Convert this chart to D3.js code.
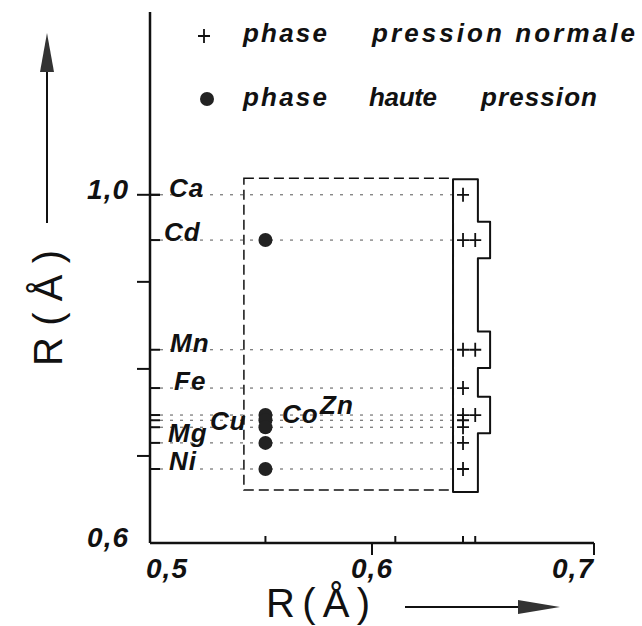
<!doctype html>
<html lang="fr">
<head>
<meta charset="utf-8">
<title>R(Å) phase pression normale / haute pression</title>
<style>
  body { margin: 0; background: #fff; }
  text { font-family: "Liberation Sans", Arial, sans-serif; fill: #111; }
</style>
</head>
<body>
<div id="chart"></div>
<script src="https://d3js.org/d3.v7.min.js"></script>
<script>
// cations et rayons (axe vertical)
var elements = ["Ca", "Cd", "Mn", "Fe", "Zn", "Co", "Cu", "Mg", "Ni"];
var radii = [1.00, 0.948, 0.822, 0.778, 0.747, 0.741, 0.733, 0.715, 0.685];

// phase haute pression (points)
var hpElements = ["Cd", "Zn", "Co", "Cu", "Mg", "Ni"];
var hpX = [0.552, 0.552, 0.552, 0.552, 0.552, 0.552];

// phase pression normale (croix)
var npElements = ["Ca", "Cd", "Cd", "Mn", "Mn", "Fe", "Zn", "Zn", "Co", "Cu", "Mg", "Ni"];
var npX = [0.641, 0.641, 0.6465, 0.641, 0.6465, 0.641, 0.641, 0.6465, 0.641, 0.641, 0.641, 0.641];

// axes
var xTickValues = [0.5, 0.6, 0.7];
var xTickLabels = ["0,5", "0,6", "0,7"];
var xMinorTicks = [0.552, 0.6105, 0.641, 0.6465];
var yMajorTicks = [1.0, 0.9, 0.8, 0.7];
var yTickLabels = [{v: 1.0, t: "1,0"}, {v: 0.6, t: "0,6"}];

// domaines encadrés
var dashedBox = {x0: 0.5423, x1: 0.6365, y0: 0.661, y1: 1.019};
var hullBox = {x0: 0.6365, x1: 0.6477, xb: 0.6532, y0: 0.6586, y1: 1.018, bump: 0.021};
var hullBumps = ["Cd", "Mn", "Zn"];

var width = 642, height = 626;
var svg = d3.select("#chart").append("svg")
    .attr("width", width)
    .attr("height", height);

svg.append("rect").attr("width", width).attr("height", height).attr("fill", "#fff");

var x = d3.scaleLinear().domain([0.5, 0.7]).range([150, 594]);
var y = d3.scaleLinear().domain([0.6, 1.21]).range([543, 12]);
function rOf(el) { return radii[elements.indexOf(el)]; }

// dotted guide lines
svg.append("g").selectAll("line")
  .data(elements)
  .join("line")
  .attr("x1", x(0.5)).attr("x2", x(hullBox.x0))
  .attr("y1", function(d) { return y(rOf(d)); })
  .attr("y2", function(d) { return y(rOf(d)); })
  .attr("stroke", "#555")
  .attr("stroke-width", 1)
  .attr("stroke-dasharray", "3,7");

// dashed domain
svg.append("rect")
  .attr("x", x(dashedBox.x0))
  .attr("y", y(dashedBox.y1))
  .attr("width", x(dashedBox.x1) - x(dashedBox.x0))
  .attr("height", y(dashedBox.y0) - y(dashedBox.y1))
  .attr("fill", "none")
  .attr("stroke", "#111")
  .attr("stroke-width", 1.5)
  .attr("stroke-dasharray", "10,5");

// solid outline around crosses
var hull = d3.path();
hull.moveTo(x(hullBox.x0), y(hullBox.y1));
hull.lineTo(x(hullBox.x1), y(hullBox.y1));
hullBumps.forEach(function(el) {
  var r = rOf(el);
  hull.lineTo(x(hullBox.x1), y(r + hullBox.bump));
  hull.lineTo(x(hullBox.xb), y(r + hullBox.bump));
  hull.lineTo(x(hullBox.xb), y(r - hullBox.bump));
  hull.lineTo(x(hullBox.x1), y(r - hullBox.bump));
});
hull.lineTo(x(hullBox.x1), y(hullBox.y0));
hull.lineTo(x(hullBox.x0), y(hullBox.y0));
hull.closePath();
svg.append("path")
  .attr("d", hull.toString())
  .attr("fill", "none")
  .attr("stroke", "#111")
  .attr("stroke-width", 2)
  .attr("stroke-linejoin", "round");

// axes lines
svg.append("line")
  .attr("x1", x(0.5)).attr("x2", x(0.5))
  .attr("y1", y(1.21)).attr("y2", y(0.6))
  .attr("stroke", "#111").attr("stroke-width", 2.5);
svg.append("line")
  .attr("x1", x(0.5)).attr("x2", x(0.7))
  .attr("y1", y(0.6)).attr("y2", y(0.6))
  .attr("stroke", "#111").attr("stroke-width", 2.5);

// y ticks: major on the left, element ticks on the right
svg.append("g").selectAll("line")
  .data(yMajorTicks)
  .join("line")
  .attr("x1", x(0.5) - 13)
  .attr("x2", function(d) { return d === 1.0 ? x(0.5) + 10 : x(0.5); })
  .attr("y1", y).attr("y2", y)
  .attr("stroke", "#111").attr("stroke-width", 2);
svg.append("g").selectAll("line")
  .data(radii)
  .join("line")
  .attr("x1", x(0.5)).attr("x2", x(0.5) + 10)
  .attr("y1", y).attr("y2", y)
  .attr("stroke", "#111").attr("stroke-width", 2);

// x ticks
svg.append("g").selectAll("line")
  .data(xTickValues.slice(1))
  .join("line")
  .attr("x1", x).attr("x2", x)
  .attr("y1", y(0.6)).attr("y2", y(0.6) + 12)
  .attr("stroke", "#111").attr("stroke-width", 2);
svg.append("g").selectAll("line")
  .data(xMinorTicks)
  .join("line")
  .attr("x1", x).attr("x2", x)
  .attr("y1", y(0.6)).attr("y2", y(0.6) - 7)
  .attr("stroke", "#111").attr("stroke-width", 2);

// tick labels
svg.append("g").selectAll("text")
  .data(xTickValues)
  .join("text")
  .attr("x", function(d) { return x(d) + (d === 0.5 ? 17 : d === 0.7 ? -21 : 0); })
  .attr("y", 578)
  .attr("text-anchor", "middle")
  .attr("font-size", 28)
  .attr("font-style", "italic")
  .attr("font-weight", "bold")
  .attr("letter-spacing", 1)
  .text(function(d, i) { return xTickLabels[i]; });

svg.append("g").selectAll("text")
  .data(yTickLabels)
  .join("text")
  .attr("x", 129)
  .attr("y", function(d) { return y(d.v) + 4; })
  .attr("text-anchor", "end")
  .attr("font-size", 28)
  .attr("font-style", "italic")
  .attr("font-weight", "bold")
  .attr("letter-spacing", 1)
  .text(function(d) { return d.t; });

// element labels
var labelLayout = {
  Ca: [169, 2], Cd: [164, 1], Mn: [170, 2], Fe: [174, 2], Zn: [320, -1],
  Co: [282, 3], Cu: [210, 3], Mg: [168, -1], Ni: [169, 1]
};
svg.append("g").selectAll("text")
  .data(elements)
  .join("text")
  .attr("x", function(d) { return labelLayout[d][0]; })
  .attr("y", function(d) { return y(rOf(d)) + labelLayout[d][1]; })
  .attr("font-size", 26)
  .attr("font-style", "italic")
  .attr("font-weight", "bold")
  .attr("letter-spacing", 1)
  .text(function(d) { return d; });

// high pressure points
svg.append("g").selectAll("circle")
  .data(hpElements)
  .join("circle")
  .attr("cx", function(d, i) { return x(hpX[i]); })
  .attr("cy", function(d) { return y(rOf(d)); })
  .attr("r", 7)
  .attr("fill", "#222");

// normal pressure crosses
var cross = "M-6,0H6M0,-7V7";
svg.append("g").selectAll("path")
  .data(npElements)
  .join("path")
  .attr("transform", function(d, i) { return "translate(" + x(npX[i]) + "," + y(rOf(d)) + ")"; })
  .attr("d", cross)
  .attr("stroke", "#111")
  .attr("stroke-width", 1.8)
  .attr("fill", "none");

// legend
var legend = svg.append("g");
legend.append("path")
  .attr("transform", "translate(204,36)")
  .attr("d", cross)
  .attr("stroke", "#111").attr("stroke-width", 1.8);
legend.append("circle")
  .attr("cx", 207).attr("cy", 99).attr("r", 7).attr("fill", "#222");
var legendTexts = [
  {t: "phase", x: 243, y: 42, w: 84},
  {t: "pression normale", x: 372, y: 42, w: 263},
  {t: "phase", x: 243, y: 106, w: 84},
  {t: "haute", x: 369, y: 106, w: 68},
  {t: "pression", x: 481, y: 106, w: 116}
];
legend.selectAll("text")
  .data(legendTexts)
  .join("text")
  .attr("x", function(d) { return d.x; })
  .attr("y", function(d) { return d.y; })
  .attr("textLength", function(d) { return d.w; })
  .attr("lengthAdjust", "spacing")
  .attr("font-size", 26)
  .attr("font-style", "italic")
  .attr("font-weight", "bold")
  .text(function(d) { return d.t; });

// axis titles with arrows
svg.append("text")
  .attr("x", 266).attr("y", 617)
  .attr("textLength", 104)
  .attr("lengthAdjust", "spacing")
  .attr("font-size", 40)
  .text("R(Å)");
svg.append("line")
  .attr("x1", 405).attr("x2", 530).attr("y1", 607).attr("y2", 607)
  .attr("stroke", "#111").attr("stroke-width", 2);
svg.append("path")
  .attr("d", "M518,600L560,607L518,614Z")
  .attr("fill", "#333");

svg.append("text")
  .attr("transform", "translate(62,366) rotate(-90)")
  .attr("textLength", 116)
  .attr("lengthAdjust", "spacing")
  .attr("font-size", 40)
  .text("R(Å)");
svg.append("line")
  .attr("x1", 47).attr("x2", 47).attr("y1", 223).attr("y2", 62)
  .attr("stroke", "#111").attr("stroke-width", 2);
svg.append("path")
  .attr("d", "M40,72L47,33L54,72Z")
  .attr("fill", "#333");
</script>
</body>
</html>
